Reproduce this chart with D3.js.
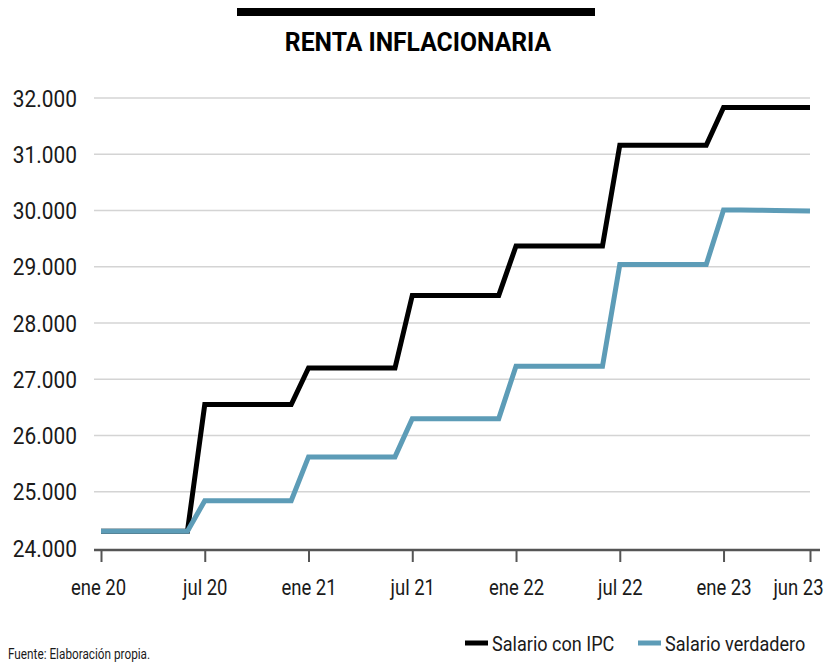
<!DOCTYPE html>
<html lang="es">
<head>
    <meta charset="UTF-8">
    <title>Renta inflacionaria</title>
    <script src="https://cdnjs.cloudflare.com/ajax/libs/d3/7.8.5/d3.min.js"></script>
    <style>
        body { margin: 0; background: #fff; }
        text { font-family: Roboto, "Noto Sans", sans-serif; fill: #1a1a1a; }
    </style>
</head>
<body>
<svg id="chart" width="833" height="671"></svg>
<script>
    // meses desde ene 20 (0) hasta jun 23 (41)
    var months = d3.range(0, 42);
    var ipc = [24300, 24300, 24300, 24300, 24300, 24300,
        26550, 26550, 26550, 26550, 26550, 26550,
        27200, 27200, 27200, 27200, 27200, 27200,
        28490, 28490, 28490, 28490, 28490, 28490,
        29370, 29370, 29370, 29370, 29370, 29370,
        31160, 31160, 31160, 31160, 31160, 31160,
        31830, 31830, 31830, 31830, 31830, 31830];
    var verdadero = [24300, 24300, 24300, 24300, 24300, 24300,
        24840, 24840, 24840, 24840, 24840, 24840,
        25620, 25620, 25620, 25620, 25620, 25620,
        26300, 26300, 26300, 26300, 26300, 26300,
        27230, 27230, 27230, 27230, 27230, 27230,
        29040, 29040, 29040, 29040, 29040, 29040,
        30010, 30008, 30005, 30000, 29995, 29990];
    var tickMonths = [0, 6, 12, 18, 24, 30, 36, 41];
    var tickLabels = ['ene 20', 'jul 20', 'ene 21', 'jul 21', 'ene 22', 'jul 22', 'ene 23', 'jun 23'];
    var yTicks = [24000, 25000, 26000, 27000, 28000, 29000, 30000, 31000, 32000];
    var seriesNames = ['Salario con IPC', 'Salario verdadero'];
    var seriesColors = ['#000000', '#5d9cb7'];

    var svg = d3.select('#chart');
    var x = d3.scaleLinear().domain([0, 41]).range([101, 810]);
    var y = d3.scaleLinear().domain([24000, 32000]).range([548, 98]);
    var fmt = d3.formatLocale({decimal: ',', thousands: '.', grouping: [3], currency: ['', '€']}).format(',');

    // comprime el texto horizontalmente (la fuente original es condensada)
    function condense(sel, k) {
        sel.each(function () {
            var w = this.getComputedTextLength();
            d3.select(this).attr('textLength', w * k).attr('lengthAdjust', 'spacingAndGlyphs');
        });
    }

    // barra y titulo
    svg.append('rect').attr('x', 237).attr('y', 8).attr('width', 358).attr('height', 8).attr('fill', '#000');
    svg.append('text').attr('x', 418).attr('y', 51).attr('text-anchor', 'middle')
        .style('font-size', '26px').style('font-weight', 700).style('fill', '#000')
        .text('RENTA INFLACIONARIA').call(condense, 0.95);

    // lineas de rejilla
    svg.append('g').selectAll('line')
        .data(yTicks.filter(d => d > 24000))
        .enter().append('line')
        .attr('x1', 94).attr('x2', 810)
        .attr('y1', d => y(d)).attr('y2', d => y(d))
        .attr('stroke', '#d4d4d4').attr('stroke-width', 1.5);

    svg.append('g').selectAll('text')
        .data(yTicks)
        .enter().append('text')
        .attr('x', 77).attr('y', d => y(d) + 8.5)
        .attr('text-anchor', 'end')
        .style('font-size', '24px')
        .text(d => fmt(d)).call(condense, 0.87);

    // eje x
    var xAxis = d3.axisBottom(x).tickValues(tickMonths)
        .tickFormat((d, i) => tickLabels[i]).tickSize(12).tickPadding(17).tickSizeOuter(0);
    var gx = svg.append('g').attr('transform', 'translate(0,550)').call(xAxis);
    gx.select('.domain').remove();
    gx.insert('line', ':first-child').attr('x1', 94).attr('x2', 820)
        .attr('stroke', '#555').attr('stroke-width', 2.5);
    gx.selectAll('.tick line').attr('stroke', '#555').attr('stroke-width', 2);
    gx.selectAll('.tick text').attr('fill', '#1a1a1a')
        .style('font-family', 'Roboto, sans-serif').style('font-size', '22px')
        .attr('dx', (d, i) => i === 0 ? -3 : (i === tickMonths.length - 1 ? -12 : 0))
        .call(condense, 0.84);

    // series
    var line = d3.line().x((d, i) => x(months[i])).y(d => y(d));
    [ipc, verdadero].forEach(function (s, i) {
        svg.append('path')
            .attr('d', line(s))
            .attr('fill', 'none')
            .attr('stroke', seriesColors[i])
            .attr('stroke-width', 5)
            .attr('stroke-linejoin', 'miter');
    });

    // leyenda
    var legendX = [465, 638];
    seriesNames.forEach(function (n, i) {
        svg.append('line').attr('x1', legendX[i]).attr('x2', legendX[i] + 23)
            .attr('y1', 643).attr('y2', 643)
            .attr('stroke', seriesColors[i]).attr('stroke-width', 5);
        svg.append('text').attr('x', legendX[i] + 27).attr('y', 651)
            .style('font-size', '21px').text(n).call(condense, 0.86);
    });

    svg.append('text').attr('x', 8).attr('y', 659)
        .style('font-size', '14px').text('Fuente: Elaboración propia.').call(condense, 0.84);
</script>
</body>
</html>
